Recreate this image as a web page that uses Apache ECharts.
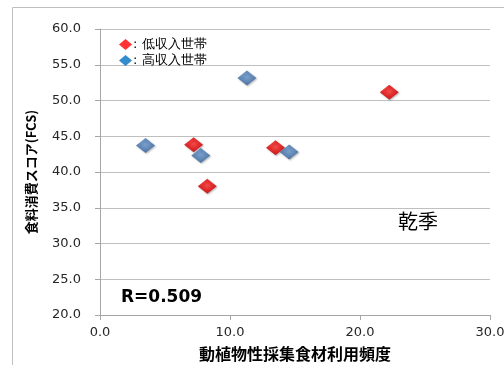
<!DOCTYPE html>
<html><head><meta charset="utf-8">
<script src="https://cdn.jsdelivr.net/npm/echarts@6/dist/echarts.min.js"></script>
<style>html,body{margin:0;padding:0;background:#fff}#c{width:504px;height:365px}</style>
</head><body><div id="c"></div>
<script>
const seriesNames = ['低収入世帯', '高収入世帯'];
const lowX = [22.25, 7.2, 13.5, 8.25];
const lowY = [51.15, 43.8, 43.4, 38.0];
const highX = [11.3, 3.5, 7.75, 14.55];
const highY = [53.15, 43.7, 42.3, 42.8];
const xTicks = [0, 10, 20, 30];
const yTicks = [20, 25, 30, 35, 40, 45, 50, 55, 60];
const xTitle = '動植物性採集食材利用頻度';
const yTitle = '食料消費スコア(FCS)';
const rText = 'R=0.509';
const seasonText = '乾季';

const zip = (xs, ys) => xs.map((v, i) => [v, ys[i]]);
const chart = echarts.init(document.getElementById('c'), null, {renderer: 'canvas'});
const redFill = new echarts.graphic.RadialGradient(0.5, 0.45, 0.6, [
  {offset: 0, color: '#ff3030'}, {offset: 0.55, color: '#e60000'}, {offset: 1, color: '#9a0000'}]);
const blueFill = new echarts.graphic.RadialGradient(0.5, 0.45, 0.6, [
  {offset: 0, color: '#6a98cf'}, {offset: 0.55, color: '#4677b2'}, {offset: 1, color: '#2a5185'}]);
const font = 'DejaVu Sans';
const cjkBold = '"Noto Sans CJK JP"';
chart.setOption({
  animation: false,
  grid: {left: 100, right: 14, top: 29, bottom: 50, containLabel: false, outerBoundsMode: 'none'},
  legend: {
    orient: 'vertical', left: 114, top: 33, itemWidth: 13, itemHeight: 11, itemGap: 3,
    icon: 'diamond', formatter: ': {name}',
    textStyle: {fontFamily: font, fontSize: 13, color: '#000', padding: [0, 0, 0, -4]},
    data: [
      {name: seriesNames[0], itemStyle: {color: '#ff0000'}},
      {name: seriesNames[1], itemStyle: {color: '#0070c0'}}
    ]
  },
  xAxis: {
    type: 'value', min: xTicks[0], max: xTicks[xTicks.length - 1], interval: 10,
    name: xTitle, nameLocation: 'middle', nameGap: 31,
    nameTextStyle: {fontFamily: cjkBold, fontSize: 16, fontWeight: 'bold', color: '#000'},
    axisLine: {show: true, lineStyle: {color: '#a6a6a6'}},
    axisTick: {show: true, length: 5, lineStyle: {color: '#a6a6a6'}},
    axisLabel: {fontFamily: font, fontSize: 13, color: '#262626', margin: 11, formatter: v => v.toFixed(1)},
    splitLine: {show: false}
  },
  yAxis: {
    type: 'value', min: yTicks[0], max: yTicks[yTicks.length - 1], interval: 5,
    name: yTitle, nameLocation: 'middle', nameGap: 62, nameRotate: 90,
    nameTextStyle: {fontFamily: cjkBold, fontSize: 13, fontWeight: 'bold', color: '#000'},
    axisLine: {show: true, lineStyle: {color: '#a6a6a6'}},
    axisTick: {show: true, length: 5, lineStyle: {color: '#a6a6a6'}},
    axisLabel: {fontFamily: font, fontSize: 13, color: '#262626', margin: 19, formatter: v => v.toFixed(1)},
    splitLine: {show: true, lineStyle: {color: '#bfbfbf', width: 1}}
  },
  series: [
    {name: seriesNames[0], type: 'scatter', symbol: 'diamond', symbolSize: [19, 15],
     data: zip(lowX, lowY),
     itemStyle: {color: redFill, shadowColor: 'rgba(0,0,0,0.35)', shadowBlur: 2, shadowOffsetX: 1, shadowOffsetY: 1}},
    {name: seriesNames[1], type: 'scatter', symbol: 'diamond', symbolSize: [19, 15],
     data: zip(highX, highY),
     itemStyle: {color: blueFill, shadowColor: 'rgba(0,0,0,0.35)', shadowBlur: 2, shadowOffsetX: 1, shadowOffsetY: 1}}
  ],
  graphic: [
    {type: 'rect', shape: {x: 12.5, y: 7.5, width: 600, height: 500}, style: {fill: 'none', stroke: '#bfbfbf', lineWidth: 1}, silent: true, z: -1},
    {type: 'text', left: 121, top: 289, style: {text: rText, font: 'bold 17px "DejaVu Sans"', fill: '#000'}},
    {type: 'text', left: 398, top: 211, style: {text: seasonText, font: '20px "Noto Sans CJK JP"', fill: '#000'}}
  ]
});
</script></body></html>
